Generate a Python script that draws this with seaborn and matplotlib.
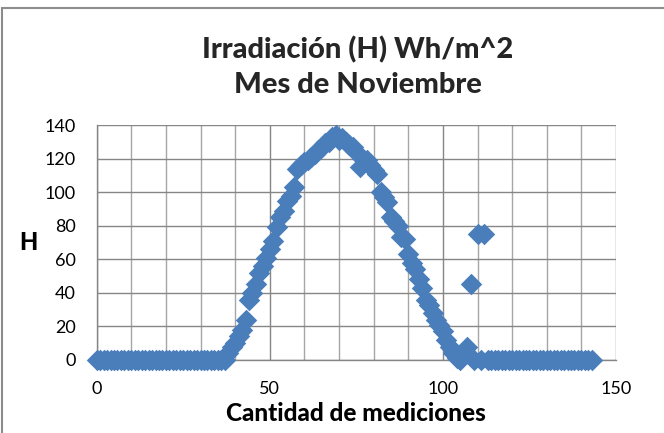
import numpy as np
import pandas as pd
import matplotlib
matplotlib.use("Agg")
import matplotlib.pyplot as plt
import seaborn as sns
from matplotlib.patches import Rectangle
from matplotlib.ticker import MultipleLocator

zeros_morning = [0] * 38                      # mediciones 0..37
rise = [4, 8, 10, 14, 18, 24, 36, 40, 45, 52,   # 38..47
        56, 61, 66, 71, 79, 85, 89, 95, 98, 103,  # 48..57
        114, 116, 118, 119, 121, 123, 125, 127, 129, 130,  # 58..67
        133, 134, 131, 132, 130, 128, 127, 124, 115, 120,  # 68..77
        119, 116, 113, 111, 100, 97, 94, 85, 83, 80,  # 78..87
        73, 72, 63, 58, 54, 48, 43, 36, 33, 28,  # 88..97
        24, 21, 17, 12, 8, 4, 1, 0, 3, 8,  # 98..107
        45, 0, 75, 0, 75]                         # 108..112
zeros_night = [0] * 31                        # mediciones 113..143

irradiacion = zeros_morning + rise + zeros_night
mediciones = list(range(len(irradiacion)))

df = pd.DataFrame({"mediciones": mediciones, "H": irradiacion})

FONT = ["Lato", "DejaVu Sans"]
BLUE = "#4A7EBB"
GRID_MAJOR = "#868686"
GRID_MINOR = "#A6A6A6"

sns.set_theme(style="white")
plt.rcParams["font.family"] = FONT

fig = plt.figure(figsize=(6.64, 4.33), dpi=100)
ax = fig.add_axes([0.1456, 0.1686, 0.9277 - 0.1456, 0.7113 - 0.1686])

sns.scatterplot(data=df, x="mediciones", y="H", marker="D", s=120,
                color=BLUE, linewidth=0, ax=ax, clip_on=False, zorder=3)

ax.set_xlim(0, 150)
ax.set_ylim(0, 140)
ax.xaxis.set_major_locator(MultipleLocator(50))
ax.xaxis.set_minor_locator(MultipleLocator(10))
ax.yaxis.set_major_locator(MultipleLocator(20))

ax.grid(which="major", axis="both", color=GRID_MAJOR, lw=1.0)
ax.grid(which="minor", axis="x", color=GRID_MINOR, lw=1.0)
ax.set_axisbelow(True)

for side in ["top", "right"]:
    ax.spines[side].set_visible(False)
for side in ["left", "bottom"]:
    ax.spines[side].set_color(GRID_MAJOR)
    ax.spines[side].set_linewidth(1.0)

ax.tick_params(axis="both", which="major", direction="out", length=6, width=1,
               color=GRID_MAJOR, labelsize=13, labelcolor="black", pad=9)
ax.tick_params(axis="x", which="minor", length=0)

ax.set_xlabel("Cantidad de mediciones", fontsize=17.5, fontweight="black",
              color="black", labelpad=4)
ax.set_ylabel("H", fontsize=17, fontweight="black", color="black",
              rotation=0, labelpad=12, va="center")

fig.text(0.539, 0.885, "Irradiación (H) Wh/m^2", ha="center", va="center",
         fontsize=21, fontweight="black")
fig.text(0.539, 0.803, "Mes de Noviembre", ha="center", va="center",
         fontsize=21, fontweight="black")

# chart border (cropped at right and bottom like the reference)
fig.patches.append(Rectangle((2 / 664, -0.05), 1.2, 1 - 8 / 433 + 0.05,
                             transform=fig.transFigure, fill=False,
                             edgecolor="#8C8C8C", lw=1.5))

fig.savefig("out.png", dpi=100)
